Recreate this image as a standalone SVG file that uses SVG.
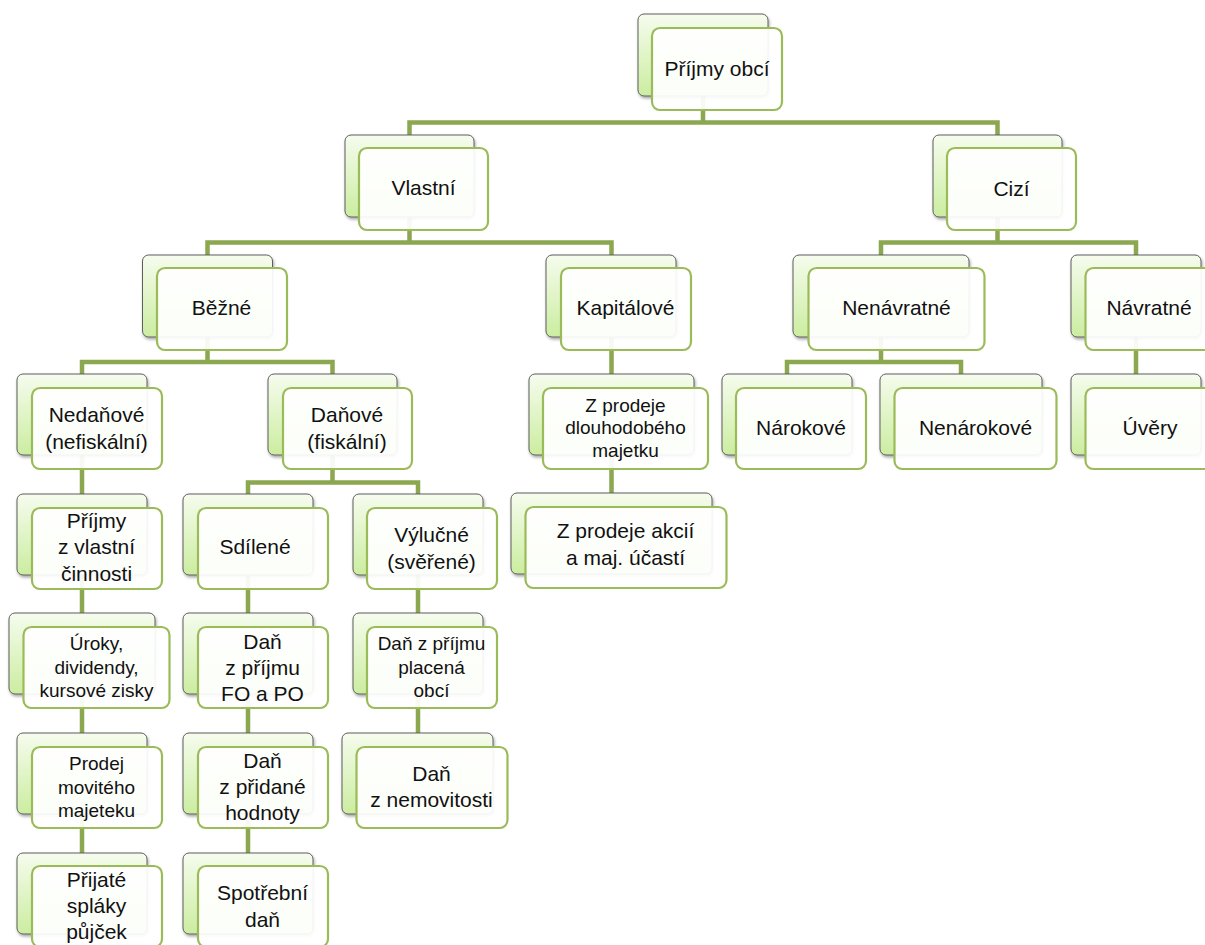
<svg xmlns="http://www.w3.org/2000/svg" width="1205" height="945" viewBox="0 0 1205 945">
<defs>
<linearGradient id="g" x1="0" y1="0" x2="0" y2="1">
<stop offset="0" stop-color="#f6fcee"/>
<stop offset="1" stop-color="#cbeda0"/>
</linearGradient>
<filter id="sh" x="-10%" y="-10%" width="125%" height="130%">
<feDropShadow dx="1" dy="2" stdDeviation="1.5" flood-color="#000" flood-opacity="0.35"/>
</filter>
<style>
.bk{fill:url(#g);stroke:#5e5e5e;stroke-width:1;filter:url(#sh)}
.fr{fill:#fff;fill-opacity:0.93;stroke:#9bbb59;stroke-width:2.2}
.t{font-family:"Liberation Sans",Arial,sans-serif;font-size:21px;fill:#111;text-anchor:middle}
.s{font-size:19px}
.c{fill:none;stroke:#8ba74f;stroke-width:4.5;stroke-linejoin:miter}
</style>
</defs>
<rect width="1205" height="945" fill="#fff"/>
<g id="connectors">
<path class="c" d="M703,96 V122.5 H409.5 V135 M703,122.5 H997.5 V135"/>
<path class="c" d="M409.5,217 V242.5 H207.5 V255 M409.5,242.5 H611.5 V255"/>
<path class="c" d="M997.5,217 V242.5 H881 V255 M997.5,242.5 H1136 V255"/>
<path class="c" d="M207.5,337 V362 H82 V374 M207.5,362 H332.5 V374"/>
<path class="c" d="M611.5,337 V374 M611.5,455 V493"/>
<path class="c" d="M881,337 V362 H787 V374 M881,362 H961 V374"/>
<path class="c" d="M1136,337 V374"/>
<path class="c" d="M82,455 V853"/>
<path class="c" d="M332.5,455 V482.5 H248 V494 M332.5,482.5 H418 V494"/>
<path class="c" d="M248,494 V853"/>
<path class="c" d="M418,494 V733"/>
</g>
<g id="n-prijmy-obci"><rect class="bk" x="638" y="14" width="130" height="82" rx="6"/><rect class="fr" x="652" y="28" width="130" height="82" rx="8"/><text class="t" x="717" y="76">Příjmy obcí</text></g>
<g id="n-vlastni"><rect class="bk" x="345" y="135" width="129" height="82" rx="6"/><rect class="fr" x="359" y="148" width="129" height="82" rx="8"/><text class="t" x="423.5" y="195">Vlastní</text></g>
<g id="n-cizi"><rect class="bk" x="933" y="135" width="129" height="82" rx="6"/><rect class="fr" x="947" y="148" width="129" height="82" rx="8"/><text class="t" x="1011.5" y="196">Cizí</text></g>
<g id="n-bezne"><rect class="bk" x="142.5" y="255" width="130" height="82" rx="6"/><rect class="fr" x="157" y="268" width="130" height="82" rx="8"/><text class="t" x="221.5" y="315">Běžné</text></g>
<g id="n-kapitalove"><rect class="bk" x="546" y="255" width="130" height="82" rx="6"/><rect class="fr" x="561" y="268" width="130" height="82" rx="8"/><text class="t" x="625.5" y="315">Kapitálové</text></g>
<g id="n-nenavratne"><rect class="bk" x="793" y="255" width="176" height="82" rx="6"/><rect class="fr" x="808.5" y="268" width="176" height="82" rx="8"/><text class="t" x="896.5" y="315">Nenávratné</text></g>
<g id="n-navratne"><rect class="bk" x="1071" y="255" width="130" height="82" rx="6"/><rect class="fr" x="1085.5" y="268" width="130" height="82" rx="8"/><text class="t" x="1149" y="315">Návratné</text></g>
<g id="n-nedanove"><rect class="bk" x="17" y="374" width="130" height="81" rx="6"/><rect class="fr" x="32" y="388" width="130" height="81" rx="8"/><text class="t" x="96.5" y="421.5">Nedaňové</text><text class="t" x="96.5" y="449">(nefiskální)</text></g>
<g id="n-danove"><rect class="bk" x="268" y="374" width="129" height="81" rx="6"/><rect class="fr" x="283" y="388" width="129" height="81" rx="8"/><text class="t" x="347" y="421.5">Daňové</text><text class="t" x="347" y="449">(fiskální)</text></g>
<g id="n-z-prodeje-dlouhodobeho"><rect class="bk" x="529" y="374" width="165" height="81" rx="6"/><rect class="fr" x="543" y="388" width="165" height="81" rx="8"/><text class="t s" x="625.5" y="411.5">Z prodeje</text><text class="t s" x="625.5" y="434">dlouhodobého</text><text class="t s" x="625.5" y="456.5">majetku</text></g>
<g id="n-narokove"><rect class="bk" x="722" y="374" width="130" height="81" rx="6"/><rect class="fr" x="736" y="388" width="130" height="81" rx="8"/><text class="t" x="801" y="434.5">Nárokové</text></g>
<g id="n-nenarokove"><rect class="bk" x="880" y="374" width="162" height="81" rx="6"/><rect class="fr" x="894.5" y="388" width="162" height="81" rx="8"/><text class="t" x="975.5" y="435">Nenárokové</text></g>
<g id="n-uvery"><rect class="bk" x="1071" y="374" width="130" height="81" rx="6"/><rect class="fr" x="1085.5" y="388" width="130" height="81" rx="8"/><text class="t" x="1150" y="435">Úvěry</text></g>
<g id="n-prijmy-z-vlastni-cinnosti"><rect class="bk" x="17" y="494" width="130" height="81" rx="6"/><rect class="fr" x="32" y="508" width="130" height="81" rx="8"/><text class="t" x="96.5" y="528">Příjmy</text><text class="t" x="96.5" y="554">z vlastní</text><text class="t" x="96.5" y="580.5">činnosti</text></g>
<g id="n-sdilene"><rect class="bk" x="183" y="494" width="130" height="81" rx="6"/><rect class="fr" x="198" y="508" width="130" height="81" rx="8"/><text class="t" x="255" y="554">Sdílené</text></g>
<g id="n-vylucne"><rect class="bk" x="353" y="494" width="130" height="81" rx="6"/><rect class="fr" x="367" y="508" width="130" height="81" rx="8"/><text class="t" x="431.5" y="541.5">Výlučné</text><text class="t" x="431.5" y="569">(svěřené)</text></g>
<g id="n-z-prodeje-akcii"><rect class="bk" x="511" y="493" width="201" height="81" rx="6"/><rect class="fr" x="525.5" y="507" width="201" height="81" rx="8"/><text class="t" x="625.5" y="538">Z prodeje akcií</text><text class="t" x="625.5" y="565">a maj. účastí</text></g>
<g id="n-uroky"><rect class="bk" x="9" y="613" width="146" height="81" rx="6"/><rect class="fr" x="23.5" y="627" width="146" height="81" rx="8"/><text class="t s" x="96.5" y="650">Úroky,</text><text class="t s" x="96.5" y="673.5">dividendy,</text><text class="t s" x="96.5" y="697">kursové zisky</text></g>
<g id="n-dan-z-prijmu-fo-po"><rect class="bk" x="183" y="613" width="130" height="81" rx="6"/><rect class="fr" x="198" y="627" width="130" height="81" rx="8"/><text class="t" x="262.5" y="648.5">Daň</text><text class="t" x="262.5" y="675">z příjmu</text><text class="t" x="262.5" y="700.5">FO a PO</text></g>
<g id="n-dan-z-prijmu-placena-obci"><rect class="bk" x="353" y="613" width="130" height="81" rx="6"/><rect class="fr" x="367" y="627" width="130" height="81" rx="8"/><text class="t s" x="431.5" y="650">Daň z příjmu</text><text class="t s" x="431.5" y="673.5">placená</text><text class="t s" x="431.5" y="696.5">obcí</text></g>
<g id="n-prodej-moviteho-majeteku"><rect class="bk" x="17" y="733" width="130" height="81" rx="6"/><rect class="fr" x="32" y="747" width="130" height="81" rx="8"/><text class="t s" x="96.5" y="770">Prodej</text><text class="t s" x="96.5" y="793.5">movitého</text><text class="t s" x="96.5" y="816.5">majeteku</text></g>
<g id="n-dan-z-pridane-hodnoty"><rect class="bk" x="183" y="733" width="130" height="81" rx="6"/><rect class="fr" x="198" y="747" width="130" height="81" rx="8"/><text class="t" x="262.5" y="767.5">Daň</text><text class="t" x="262.5" y="794">z přidané</text><text class="t" x="262.5" y="820">hodnoty</text></g>
<g id="n-dan-z-nemovitosti"><rect class="bk" x="342" y="733" width="151" height="81" rx="6"/><rect class="fr" x="356.5" y="747" width="151" height="81" rx="8"/><text class="t" x="431.5" y="780.5">Daň</text><text class="t" x="431.5" y="807">z nemovitosti</text></g>
<g id="n-prijate-splatky-pujcek"><rect class="bk" x="17" y="853" width="130" height="81" rx="6"/><rect class="fr" x="32" y="866" width="130" height="81" rx="8"/><text class="t" x="96.5" y="886.5">Přijaté</text><text class="t" x="96.5" y="913">spláky</text><text class="t" x="96.5" y="938.5">půjček</text></g>
<g id="n-spotrebni-dan"><rect class="bk" x="183" y="853" width="130" height="81" rx="6"/><rect class="fr" x="198" y="866" width="130" height="81" rx="8"/><text class="t" x="262.5" y="900">Spotřební</text><text class="t" x="262.5" y="926.5">daň</text></g>
</svg>
